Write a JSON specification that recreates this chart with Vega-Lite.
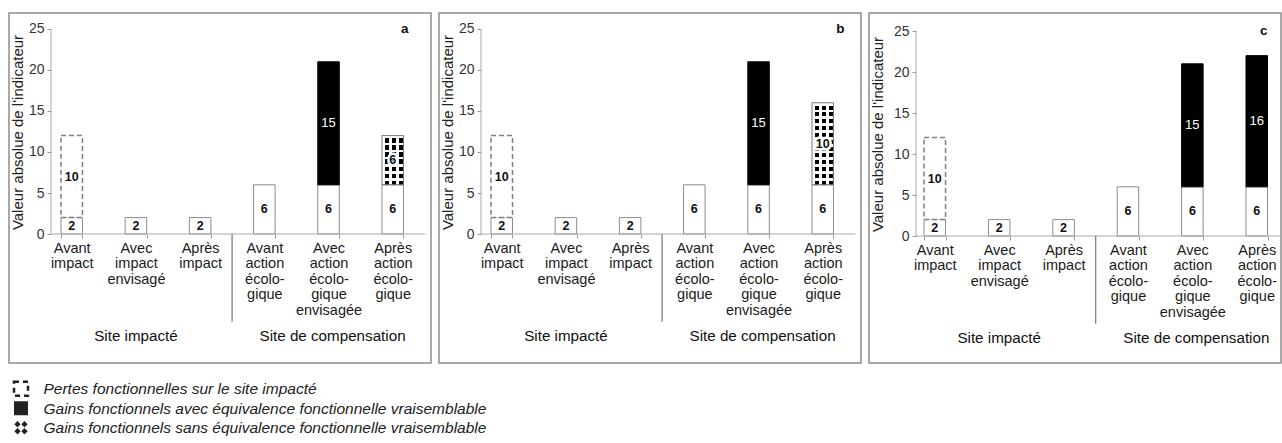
{
  "$schema": "https://vega.github.io/schema/vega-lite/v6.json",
  "padding": {"left": 8, "top": 12, "right": 0, "bottom": 0},
  "background": "white",
  "config": {
    "font": "Liberation Sans",
    "text": {"font": "Liberation Sans"},
    "axis": {"labelFont": "Liberation Sans", "titleFont": "Liberation Sans"},
    "view": {"stroke": "#8c8c8c", "strokeWidth": 1.5},
    "concat": {"spacing": 6}
  },
  "spacing": 12,
  "vconcat": [
    {
      "spacing": 6,
      "hconcat": [
        {
          "width": 422,
          "height": 350,
          "data": {"values": [
            {"cat": "Avant|impact", "seg": "base", "value": 2, "ord": 1},
            {"cat": "Avant|impact", "seg": "pertes", "value": 10, "ord": 2},
            {"cat": "Avec|impact|envisagé", "seg": "base", "value": 2, "ord": 1},
            {"cat": "Après|impact", "seg": "base", "value": 2, "ord": 1},
            {"cat": "Avant|action|écolo-|gique", "seg": "base", "value": 6, "ord": 1},
            {"cat": "Avec|action|écolo-|gique|envisagée", "seg": "base", "value": 6, "ord": 1},
            {"cat": "Avec|action|écolo-|gique|envisagée", "seg": "equiv", "value": 15, "ord": 2},
            {"cat": "Après|action|écolo-|gique", "seg": "base", "value": 6, "ord": 1},
            {"cat": "Après|action|écolo-|gique", "seg": "sans", "value": 6, "ord": 2}
          ]},
          "transform": [
            {"stack": "value", "groupby": ["cat"], "sort": [{"field": "ord"}], "as": ["y0", "y1"]},
            {"calculate": "(datum.y0+datum.y1)/2", "as": "mid"}
          ],
          "encoding": {
            "x": {"field": "cat", "type": "nominal", "title": null,
              "scale": {"domain": ["Avant|impact", "Avec|impact|envisagé", "Après|impact", "Avant|action|écolo-|gique", "Avec|action|écolo-|gique|envisagée", "Après|action|écolo-|gique"], "paddingInner": 0.665, "paddingOuter": 0.619, "align": 0.654, "round": false},
              "axis": {"orient": "bottom", "offset": -129, "domain": false, "ticks": true, "tickBand": "extent", "tickSize": 4, "tickColor": "#999", "labelExpr": "split(datum.label, '|')", "labelFontSize": 14.5, "labelColor": "#1a1a1a", "labelLineHeight": 15.5, "labelPadding": 3, "labelAngle": 0, "labelLimit": 0}}
          },
          "layer": [
            {"transform": [{"filter": "datum.seg=='base'"}], "mark": {"type": "bar", "fill": "white", "stroke": "#8c8c8c", "strokeWidth": 1},
              "encoding": {"y": {"field": "y1", "type": "quantitative", "scale": {"domain": [-15.73, 26.95], "nice": false, "zero": false},
                "axis": {"title": "Valeur absolue de l'indicateur", "values": [0, 5, 10, 15, 20, 25], "offset": -42, "domain": false, "grid": false, "tickSize": 4, "tickColor": "#999", "labelFontSize": 14, "labelColor": "#333", "labelPadding": 3, "titleFontSize": 15, "titleFontWeight": "normal", "titleColor": "#222", "titleX": -34, "titleY": 119, "titleAngle": -90, "titleAlign": "center", "titleBaseline": "middle"}},
                "y2": {"field": "y0"}}},
            {"transform": [{"filter": "datum.seg=='pertes'"}], "mark": {"type": "bar", "fill": "white", "stroke": "#808080", "strokeWidth": 1.5, "strokeDash": [5, 3]},
              "encoding": {"y": {"field": "y1", "type": "quantitative", "scale": {"domain": [-15.73, 26.95], "nice": false, "zero": false}}, "y2": {"field": "y0"}}},
            {"transform": [{"filter": "datum.seg=='equiv'"}], "mark": {"type": "bar", "fill": "black", "stroke": "black", "strokeWidth": 1},
              "encoding": {"y": {"field": "y1", "type": "quantitative", "scale": {"domain": [-15.73, 26.95], "nice": false, "zero": false}}, "y2": {"field": "y0"}}},
            {"transform": [{"filter": "datum.seg=='sans'"}], "mark": {"type": "bar", "strokeWidth": 0, "fill": {"gradient": "linear", "x1": 0, "y1": 0, "x2": 0, "y2": 1, "stops": [
              {"offset": 0, "color": "white"}, {"offset": 0.0571, "color": "white"}, {"offset": 0.0571, "color": "black"}, {"offset": 0.1429, "color": "black"},
              {"offset": 0.1429, "color": "white"}, {"offset": 0.2, "color": "white"}, {"offset": 0.2, "color": "black"}, {"offset": 0.2857, "color": "black"},
              {"offset": 0.2857, "color": "white"}, {"offset": 0.3429, "color": "white"}, {"offset": 0.3429, "color": "black"}, {"offset": 0.4286, "color": "black"},
              {"offset": 0.4286, "color": "white"}, {"offset": 0.4857, "color": "white"}, {"offset": 0.4857, "color": "black"}, {"offset": 0.5714, "color": "black"},
              {"offset": 0.5714, "color": "white"}, {"offset": 0.6286, "color": "white"}, {"offset": 0.6286, "color": "black"}, {"offset": 0.7143, "color": "black"},
              {"offset": 0.7143, "color": "white"}, {"offset": 0.7714, "color": "white"}, {"offset": 0.7714, "color": "black"}, {"offset": 0.8571, "color": "black"},
              {"offset": 0.8571, "color": "white"}, {"offset": 0.9143, "color": "white"}, {"offset": 0.9143, "color": "black"}, {"offset": 1, "color": "black"}]}},
              "encoding": {"y": {"field": "y1", "type": "quantitative", "scale": {"domain": [-15.73, 26.95], "nice": false, "zero": false}}, "y2": {"field": "y0"}}},
            {"transform": [{"filter": "datum.seg=='sans'"}], "mark": {"type": "bar", "stroke": "#777", "strokeWidth": 1, "fill": {"gradient": "linear", "x1": 0, "y1": 0, "x2": 1, "y2": 0, "stops": [
              {"offset": 0, "color": "white"}, {"offset": 0.1333, "color": "white"}, {"offset": 0.1333, "color": "rgba(255,255,255,0)"}, {"offset": 0.3333, "color": "rgba(255,255,255,0)"},
              {"offset": 0.3333, "color": "white"}, {"offset": 0.4667, "color": "white"}, {"offset": 0.4667, "color": "rgba(255,255,255,0)"}, {"offset": 0.6667, "color": "rgba(255,255,255,0)"},
              {"offset": 0.6667, "color": "white"}, {"offset": 0.8, "color": "white"}, {"offset": 0.8, "color": "rgba(255,255,255,0)"}, {"offset": 1, "color": "rgba(255,255,255,0)"}]}},
              "encoding": {"y": {"field": "y1", "type": "quantitative", "scale": {"domain": [-15.73, 26.95], "nice": false, "zero": false}}, "y2": {"field": "y0"}}},
            {"data": {"values": [{}]}, "mark": {"type": "rule", "color": "#aaa", "strokeWidth": 1, "xOffset": -10},
              "encoding": {"x": {"datum": "Avant|impact", "bandPosition": 0}, "y": {"datum": 0, "scale": {"domain": [-15.73, 26.95], "nice": false, "zero": false}}, "y2": {"datum": 25}}},
            {"data": {"values": [{}]}, "mark": {"type": "rule", "color": "#aaa", "strokeWidth": 1, "xOffset": -10, "x2Offset": 22},
              "encoding": {"x": {"datum": "Avant|impact", "bandPosition": 0}, "x2": {"datum": "Après|action|écolo-|gique", "bandPosition": 1}, "y": {"datum": 0, "scale": {"domain": [-15.73, 26.95], "nice": false, "zero": false}}}},
            {"data": {"values": [{}]}, "mark": {"type": "rule", "color": "#777", "strokeWidth": 1.2, "xOffset": -21.5},
              "encoding": {"x": {"datum": "Avant|action|écolo-|gique", "bandPosition": 0}, "y": {"datum": 0, "scale": {"domain": [-15.73, 26.95], "nice": false, "zero": false}}, "y2": {"datum": -10.7}}},
            {"transform": [{"filter": "datum.seg=='base' || datum.seg=='pertes'"}], "mark": {"type": "text", "font": "Liberation Sans", "fontWeight": "bold", "fontSize": 12.5, "color": "#111", "baseline": "middle"},
              "encoding": {"y": {"field": "mid", "type": "quantitative", "scale": {"domain": [-15.73, 26.95], "nice": false, "zero": false}}, "text": {"field": "value", "type": "quantitative"}}},
            {"transform": [{"filter": "datum.seg=='equiv'"}], "mark": {"type": "text", "font": "Liberation Sans", "fontSize": 13, "color": "white", "baseline": "middle"},
              "encoding": {"y": {"field": "mid", "type": "quantitative", "scale": {"domain": [-15.73, 26.95], "nice": false, "zero": false}}, "text": {"field": "value", "type": "quantitative"}}},
            {"transform": [{"filter": "datum.seg=='sans'"}], "mark": {"type": "text", "font": "Liberation Sans", "fontWeight": "bold", "fontSize": 12.5, "fill": "white", "stroke": "white", "strokeWidth": 5, "baseline": "middle"},
              "encoding": {"y": {"field": "mid", "type": "quantitative", "scale": {"domain": [-15.73, 26.95], "nice": false, "zero": false}}, "text": {"field": "value", "type": "quantitative"}}},
            {"transform": [{"filter": "datum.seg=='sans'"}], "mark": {"type": "text", "font": "Liberation Sans", "fontWeight": "bold", "fontSize": 12.5, "color": "#111", "baseline": "middle"},
              "encoding": {"y": {"field": "mid", "type": "quantitative", "scale": {"domain": [-15.73, 26.95], "nice": false, "zero": false}}, "text": {"field": "value", "type": "quantitative"}}},
            {"data": {"values": [{}]}, "mark": {"type": "text", "font": "Liberation Sans", "fontWeight": "normal", "fontSize": 15.2, "color": "#111", "baseline": "middle"},
              "encoding": {"x": {"datum": "Avec|impact|envisagé"}, "y": {"datum": -12.4, "scale": {"domain": [-15.73, 26.95], "nice": false, "zero": false}}, "text": {"value": "Site impacté"}}},
            {"data": {"values": [{}]}, "mark": {"type": "text", "font": "Liberation Sans", "fontWeight": "normal", "fontSize": 15.2, "color": "#111", "baseline": "middle", "dx": 4},
              "encoding": {"x": {"datum": "Avec|action|écolo-|gique|envisagée"}, "y": {"datum": -12.4, "scale": {"domain": [-15.73, 26.95], "nice": false, "zero": false}}, "text": {"value": "Site de compensation"}}},
            {"data": {"values": [{}]}, "mark": {"type": "text", "font": "Liberation Sans", "fontSize": 13.5, "fontWeight": "bold", "color": "#111", "align": "right", "baseline": "middle", "dx": 5},
              "encoding": {"x": {"datum": "Après|action|écolo-|gique", "bandPosition": 1}, "y": {"datum": 25, "scale": {"domain": [-15.73, 26.95], "nice": false, "zero": false}}, "text": {"value": "a"}}}
          ]
        },
        {
          "width": 422,
          "height": 350,
          "data": {"values": [
            {"cat": "Avant|impact", "seg": "base", "value": 2, "ord": 1},
            {"cat": "Avant|impact", "seg": "pertes", "value": 10, "ord": 2},
            {"cat": "Avec|impact|envisagé", "seg": "base", "value": 2, "ord": 1},
            {"cat": "Après|impact", "seg": "base", "value": 2, "ord": 1},
            {"cat": "Avant|action|écolo-|gique", "seg": "base", "value": 6, "ord": 1},
            {"cat": "Avec|action|écolo-|gique|envisagée", "seg": "base", "value": 6, "ord": 1},
            {"cat": "Avec|action|écolo-|gique|envisagée", "seg": "equiv", "value": 15, "ord": 2},
            {"cat": "Après|action|écolo-|gique", "seg": "base", "value": 6, "ord": 1},
            {"cat": "Après|action|écolo-|gique", "seg": "sans", "value": 10, "ord": 2}
          ]},
          "transform": [
            {"stack": "value", "groupby": ["cat"], "sort": [{"field": "ord"}], "as": ["y0", "y1"]},
            {"calculate": "(datum.y0+datum.y1)/2", "as": "mid"}
          ],
          "encoding": {
            "x": {"field": "cat", "type": "nominal", "title": null,
              "scale": {"domain": ["Avant|impact", "Avec|impact|envisagé", "Après|impact", "Avant|action|écolo-|gique", "Avec|action|écolo-|gique|envisagée", "Après|action|écolo-|gique"], "paddingInner": 0.665, "paddingOuter": 0.619, "align": 0.654, "round": false},
              "axis": {"orient": "bottom", "offset": -129, "domain": false, "ticks": true, "tickBand": "extent", "tickSize": 4, "tickColor": "#999", "labelExpr": "split(datum.label, '|')", "labelFontSize": 14.5, "labelColor": "#1a1a1a", "labelLineHeight": 15.5, "labelPadding": 3, "labelAngle": 0, "labelLimit": 0}}
          },
          "layer": [
            {"transform": [{"filter": "datum.seg=='base'"}], "mark": {"type": "bar", "fill": "white", "stroke": "#8c8c8c", "strokeWidth": 1},
              "encoding": {"y": {"field": "y1", "type": "quantitative", "scale": {"domain": [-15.73, 26.95], "nice": false, "zero": false},
                "axis": {"title": "Valeur absolue de l'indicateur", "values": [0, 5, 10, 15, 20, 25], "offset": -42, "domain": false, "grid": false, "tickSize": 4, "tickColor": "#999", "labelFontSize": 14, "labelColor": "#333", "labelPadding": 3, "titleFontSize": 15, "titleFontWeight": "normal", "titleColor": "#222", "titleX": -34, "titleY": 119, "titleAngle": -90, "titleAlign": "center", "titleBaseline": "middle"}},
                "y2": {"field": "y0"}}},
            {"transform": [{"filter": "datum.seg=='pertes'"}], "mark": {"type": "bar", "fill": "white", "stroke": "#808080", "strokeWidth": 1.5, "strokeDash": [5, 3]},
              "encoding": {"y": {"field": "y1", "type": "quantitative", "scale": {"domain": [-15.73, 26.95], "nice": false, "zero": false}}, "y2": {"field": "y0"}}},
            {"transform": [{"filter": "datum.seg=='equiv'"}], "mark": {"type": "bar", "fill": "black", "stroke": "black", "strokeWidth": 1},
              "encoding": {"y": {"field": "y1", "type": "quantitative", "scale": {"domain": [-15.73, 26.95], "nice": false, "zero": false}}, "y2": {"field": "y0"}}},
            {"transform": [{"filter": "datum.seg=='sans'"}], "mark": {"type": "bar", "strokeWidth": 0, "fill": {"gradient": "linear", "x1": 0, "y1": 0, "x2": 0, "y2": 1, "stops": [
              {"offset": 0, "color": "white"}, {"offset": 0.0333, "color": "white"}, {"offset": 0.0333, "color": "black"}, {"offset": 0.0833, "color": "black"},
              {"offset": 0.0833, "color": "white"}, {"offset": 0.1167, "color": "white"}, {"offset": 0.1167, "color": "black"}, {"offset": 0.1667, "color": "black"},
              {"offset": 0.1667, "color": "white"}, {"offset": 0.2, "color": "white"}, {"offset": 0.2, "color": "black"}, {"offset": 0.25, "color": "black"},
              {"offset": 0.25, "color": "white"}, {"offset": 0.2833, "color": "white"}, {"offset": 0.2833, "color": "black"}, {"offset": 0.3333, "color": "black"},
              {"offset": 0.3333, "color": "white"}, {"offset": 0.3667, "color": "white"}, {"offset": 0.3667, "color": "black"}, {"offset": 0.4167, "color": "black"},
              {"offset": 0.4167, "color": "white"}, {"offset": 0.45, "color": "white"}, {"offset": 0.45, "color": "black"}, {"offset": 0.5, "color": "black"},
              {"offset": 0.5, "color": "white"}, {"offset": 0.5333, "color": "white"}, {"offset": 0.5333, "color": "black"}, {"offset": 0.5833, "color": "black"},
              {"offset": 0.5833, "color": "white"}, {"offset": 0.6167, "color": "white"}, {"offset": 0.6167, "color": "black"}, {"offset": 0.6667, "color": "black"},
              {"offset": 0.6667, "color": "white"}, {"offset": 0.7, "color": "white"}, {"offset": 0.7, "color": "black"}, {"offset": 0.75, "color": "black"},
              {"offset": 0.75, "color": "white"}, {"offset": 0.7833, "color": "white"}, {"offset": 0.7833, "color": "black"}, {"offset": 0.8333, "color": "black"},
              {"offset": 0.8333, "color": "white"}, {"offset": 0.8667, "color": "white"}, {"offset": 0.8667, "color": "black"}, {"offset": 0.9167, "color": "black"},
              {"offset": 0.9167, "color": "white"}, {"offset": 0.95, "color": "white"}, {"offset": 0.95, "color": "black"}, {"offset": 1, "color": "black"}]}},
              "encoding": {"y": {"field": "y1", "type": "quantitative", "scale": {"domain": [-15.73, 26.95], "nice": false, "zero": false}}, "y2": {"field": "y0"}}},
            {"transform": [{"filter": "datum.seg=='sans'"}], "mark": {"type": "bar", "stroke": "#777", "strokeWidth": 1, "fill": {"gradient": "linear", "x1": 0, "y1": 0, "x2": 1, "y2": 0, "stops": [
              {"offset": 0, "color": "white"}, {"offset": 0.1333, "color": "white"}, {"offset": 0.1333, "color": "rgba(255,255,255,0)"}, {"offset": 0.3333, "color": "rgba(255,255,255,0)"},
              {"offset": 0.3333, "color": "white"}, {"offset": 0.4667, "color": "white"}, {"offset": 0.4667, "color": "rgba(255,255,255,0)"}, {"offset": 0.6667, "color": "rgba(255,255,255,0)"},
              {"offset": 0.6667, "color": "white"}, {"offset": 0.8, "color": "white"}, {"offset": 0.8, "color": "rgba(255,255,255,0)"}, {"offset": 1, "color": "rgba(255,255,255,0)"}]}},
              "encoding": {"y": {"field": "y1", "type": "quantitative", "scale": {"domain": [-15.73, 26.95], "nice": false, "zero": false}}, "y2": {"field": "y0"}}},
            {"data": {"values": [{}]}, "mark": {"type": "rule", "color": "#aaa", "strokeWidth": 1, "xOffset": -10},
              "encoding": {"x": {"datum": "Avant|impact", "bandPosition": 0}, "y": {"datum": 0, "scale": {"domain": [-15.73, 26.95], "nice": false, "zero": false}}, "y2": {"datum": 25}}},
            {"data": {"values": [{}]}, "mark": {"type": "rule", "color": "#aaa", "strokeWidth": 1, "xOffset": -10, "x2Offset": 22},
              "encoding": {"x": {"datum": "Avant|impact", "bandPosition": 0}, "x2": {"datum": "Après|action|écolo-|gique", "bandPosition": 1}, "y": {"datum": 0, "scale": {"domain": [-15.73, 26.95], "nice": false, "zero": false}}}},
            {"data": {"values": [{}]}, "mark": {"type": "rule", "color": "#777", "strokeWidth": 1.2, "xOffset": -21.5},
              "encoding": {"x": {"datum": "Avant|action|écolo-|gique", "bandPosition": 0}, "y": {"datum": 0, "scale": {"domain": [-15.73, 26.95], "nice": false, "zero": false}}, "y2": {"datum": -10.7}}},
            {"transform": [{"filter": "datum.seg=='base' || datum.seg=='pertes'"}], "mark": {"type": "text", "font": "Liberation Sans", "fontWeight": "bold", "fontSize": 12.5, "color": "#111", "baseline": "middle"},
              "encoding": {"y": {"field": "mid", "type": "quantitative", "scale": {"domain": [-15.73, 26.95], "nice": false, "zero": false}}, "text": {"field": "value", "type": "quantitative"}}},
            {"transform": [{"filter": "datum.seg=='equiv'"}], "mark": {"type": "text", "font": "Liberation Sans", "fontSize": 13, "color": "white", "baseline": "middle"},
              "encoding": {"y": {"field": "mid", "type": "quantitative", "scale": {"domain": [-15.73, 26.95], "nice": false, "zero": false}}, "text": {"field": "value", "type": "quantitative"}}},
            {"transform": [{"filter": "datum.seg=='sans'"}], "mark": {"type": "text", "font": "Liberation Sans", "fontWeight": "bold", "fontSize": 12.5, "fill": "white", "stroke": "white", "strokeWidth": 5, "baseline": "middle"},
              "encoding": {"y": {"field": "mid", "type": "quantitative", "scale": {"domain": [-15.73, 26.95], "nice": false, "zero": false}}, "text": {"field": "value", "type": "quantitative"}}},
            {"transform": [{"filter": "datum.seg=='sans'"}], "mark": {"type": "text", "font": "Liberation Sans", "fontWeight": "bold", "fontSize": 12.5, "color": "#111", "baseline": "middle"},
              "encoding": {"y": {"field": "mid", "type": "quantitative", "scale": {"domain": [-15.73, 26.95], "nice": false, "zero": false}}, "text": {"field": "value", "type": "quantitative"}}},
            {"data": {"values": [{}]}, "mark": {"type": "text", "font": "Liberation Sans", "fontWeight": "normal", "fontSize": 15.2, "color": "#111", "baseline": "middle"},
              "encoding": {"x": {"datum": "Avec|impact|envisagé"}, "y": {"datum": -12.4, "scale": {"domain": [-15.73, 26.95], "nice": false, "zero": false}}, "text": {"value": "Site impacté"}}},
            {"data": {"values": [{}]}, "mark": {"type": "text", "font": "Liberation Sans", "fontWeight": "normal", "fontSize": 15.2, "color": "#111", "baseline": "middle", "dx": 4},
              "encoding": {"x": {"datum": "Avec|action|écolo-|gique|envisagée"}, "y": {"datum": -12.4, "scale": {"domain": [-15.73, 26.95], "nice": false, "zero": false}}, "text": {"value": "Site de compensation"}}},
            {"data": {"values": [{}]}, "mark": {"type": "text", "font": "Liberation Sans", "fontSize": 13.5, "fontWeight": "bold", "color": "#111", "align": "right", "baseline": "middle", "dx": 11},
              "encoding": {"x": {"datum": "Après|action|écolo-|gique", "bandPosition": 1}, "y": {"datum": 25, "scale": {"domain": [-15.73, 26.95], "nice": false, "zero": false}}, "text": {"value": "b"}}}
          ]
        },
        {
          "width": 412,
          "height": 350,
          "data": {"values": [
            {"cat": "Avant|impact", "seg": "base", "value": 2, "ord": 1},
            {"cat": "Avant|impact", "seg": "pertes", "value": 10, "ord": 2},
            {"cat": "Avec|impact|envisagé", "seg": "base", "value": 2, "ord": 1},
            {"cat": "Après|impact", "seg": "base", "value": 2, "ord": 1},
            {"cat": "Avant|action|écolo-|gique", "seg": "base", "value": 6, "ord": 1},
            {"cat": "Avec|action|écolo-|gique|envisagée", "seg": "base", "value": 6, "ord": 1},
            {"cat": "Avec|action|écolo-|gique|envisagée", "seg": "equiv", "value": 15, "ord": 2},
            {"cat": "Après|action|écolo-|gique", "seg": "base", "value": 6, "ord": 1},
            {"cat": "Après|action|écolo-|gique", "seg": "equiv", "value": 16, "ord": 2}
          ]},
          "transform": [
            {"stack": "value", "groupby": ["cat"], "sort": [{"field": "ord"}], "as": ["y0", "y1"]},
            {"calculate": "(datum.y0+datum.y1)/2", "as": "mid"}
          ],
          "encoding": {
            "x": {"field": "cat", "type": "nominal", "title": null,
              "scale": {"domain": ["Avant|impact", "Avec|impact|envisagé", "Après|impact", "Avant|action|écolo-|gique", "Avec|action|écolo-|gique|envisagée", "Après|action|écolo-|gique"], "paddingInner": 0.666, "paddingOuter": 0.532, "align": 0.803, "round": false},
              "axis": {"orient": "bottom", "offset": -127, "domain": false, "ticks": true, "tickBand": "extent", "tickSize": 4, "tickColor": "#999", "labelExpr": "split(datum.label, '|')", "labelFontSize": 14.5, "labelColor": "#1a1a1a", "labelLineHeight": 15.5, "labelPadding": 3, "labelAngle": 0, "labelLimit": 0}}
          },
          "layer": [
            {"transform": [{"filter": "datum.seg=='base'"}], "mark": {"type": "bar", "fill": "white", "stroke": "#8c8c8c", "strokeWidth": 1},
              "encoding": {"y": {"field": "y1", "type": "quantitative", "scale": {"domain": [-15.49, 27.2], "nice": false, "zero": false},
                "axis": {"title": "Valeur absolue de l'indicateur", "values": [0, 5, 10, 15, 20, 25], "offset": -47, "domain": false, "grid": false, "tickSize": 4, "tickColor": "#999", "labelFontSize": 14, "labelColor": "#333", "labelPadding": 3, "titleFontSize": 15, "titleFontWeight": "normal", "titleColor": "#222", "titleX": -39, "titleY": 121, "titleAngle": -90, "titleAlign": "center", "titleBaseline": "middle"}},
                "y2": {"field": "y0"}}},
            {"transform": [{"filter": "datum.seg=='pertes'"}], "mark": {"type": "bar", "fill": "white", "stroke": "#808080", "strokeWidth": 1.5, "strokeDash": [5, 3]},
              "encoding": {"y": {"field": "y1", "type": "quantitative", "scale": {"domain": [-15.49, 27.2], "nice": false, "zero": false}}, "y2": {"field": "y0"}}},
            {"transform": [{"filter": "datum.seg=='equiv'"}], "mark": {"type": "bar", "fill": "black", "stroke": "black", "strokeWidth": 1},
              "encoding": {"y": {"field": "y1", "type": "quantitative", "scale": {"domain": [-15.49, 27.2], "nice": false, "zero": false}}, "y2": {"field": "y0"}}},
            {"data": {"values": [{}]}, "mark": {"type": "rule", "color": "#aaa", "strokeWidth": 1, "xOffset": -8},
              "encoding": {"x": {"datum": "Avant|impact", "bandPosition": 0}, "y": {"datum": 0, "scale": {"domain": [-15.49, 27.2], "nice": false, "zero": false}}, "y2": {"datum": 25}}},
            {"data": {"values": [{}]}, "mark": {"type": "rule", "color": "#aaa", "strokeWidth": 1, "xOffset": -8, "x2Offset": 22},
              "encoding": {"x": {"datum": "Avant|impact", "bandPosition": 0}, "x2": {"datum": "Après|action|écolo-|gique", "bandPosition": 1}, "y": {"datum": 0, "scale": {"domain": [-15.49, 27.2], "nice": false, "zero": false}}}},
            {"data": {"values": [{}]}, "mark": {"type": "rule", "color": "#777", "strokeWidth": 1.2, "xOffset": -21.5},
              "encoding": {"x": {"datum": "Avant|action|écolo-|gique", "bandPosition": 0}, "y": {"datum": 0, "scale": {"domain": [-15.49, 27.2], "nice": false, "zero": false}}, "y2": {"datum": -10.7}}},
            {"transform": [{"filter": "datum.seg=='base' || datum.seg=='pertes'"}], "mark": {"type": "text", "font": "Liberation Sans", "fontWeight": "bold", "fontSize": 12.5, "color": "#111", "baseline": "middle"},
              "encoding": {"y": {"field": "mid", "type": "quantitative", "scale": {"domain": [-15.49, 27.2], "nice": false, "zero": false}}, "text": {"field": "value", "type": "quantitative"}}},
            {"transform": [{"filter": "datum.seg=='equiv'"}], "mark": {"type": "text", "font": "Liberation Sans", "fontSize": 13, "color": "white", "baseline": "middle"},
              "encoding": {"y": {"field": "mid", "type": "quantitative", "scale": {"domain": [-15.49, 27.2], "nice": false, "zero": false}}, "text": {"field": "value", "type": "quantitative"}}},
            {"data": {"values": [{}]}, "mark": {"type": "text", "font": "Liberation Sans", "fontWeight": "normal", "fontSize": 15.2, "color": "#111", "baseline": "middle"},
              "encoding": {"x": {"datum": "Avec|impact|envisagé"}, "y": {"datum": -12.4, "scale": {"domain": [-15.49, 27.2], "nice": false, "zero": false}}, "text": {"value": "Site impacté"}}},
            {"data": {"values": [{}]}, "mark": {"type": "text", "font": "Liberation Sans", "fontWeight": "normal", "fontSize": 15.2, "color": "#111", "baseline": "middle", "dx": 4},
              "encoding": {"x": {"datum": "Avec|action|écolo-|gique|envisagée"}, "y": {"datum": -12.4, "scale": {"domain": [-15.49, 27.2], "nice": false, "zero": false}}, "text": {"value": "Site de compensation"}}},
            {"data": {"values": [{}]}, "mark": {"type": "text", "font": "Liberation Sans", "fontSize": 13.5, "fontWeight": "bold", "color": "#111", "align": "right", "baseline": "middle", "dx": 0},
              "encoding": {"x": {"datum": "Après|action|écolo-|gique", "bandPosition": 1}, "y": {"datum": 25, "scale": {"domain": [-15.49, 27.2], "nice": false, "zero": false}}, "text": {"value": "c"}}}
          ]
        }
      ]
    },
    {
      "width": 24,
      "height": 58.5,
      "view": {"stroke": null},
      "data": {"values": [
        {"item": "Pertes fonctionnelles sur le site impacté", "k": "pertes"},
        {"item": "Gains fonctionnels avec équivalence fonctionnelle vraisemblable", "k": "equiv"},
        {"item": "Gains fonctionnels sans équivalence fonctionnelle vraisemblable", "k": "sans"}
      ]},
      "encoding": {
        "y": {"field": "item", "type": "nominal",
          "scale": {"type": "point", "padding": 0.5, "domain": ["Pertes fonctionnelles sur le site impacté", "Gains fonctionnels avec équivalence fonctionnelle vraisemblable", "Gains fonctionnels sans équivalence fonctionnelle vraisemblable"]},
          "axis": {"orient": "right", "title": null, "domain": false, "ticks": false, "grid": false, "labelFontStyle": "italic", "labelFontSize": 15.5, "labelColor": "#222", "labelPadding": 10, "labelLimit": 0}}
      },
      "layer": [
        {"transform": [{"filter": "datum.k=='pertes'"}], "mark": {"type": "point", "shape": "square", "filled": false, "stroke": "#222", "strokeWidth": 2.5, "strokeDash": [5, 4], "size": 196, "opacity": 1}},
        {"transform": [{"filter": "datum.k=='equiv'"}], "mark": {"type": "point", "shape": "square", "filled": true, "fill": "#222", "strokeWidth": 0, "size": 196, "opacity": 1}},
        {"transform": [{"filter": "datum.k=='sans'"}], "mark": {"type": "point", "shape": "M-0.5,-0.95L-0.05,-0.5L-0.5,-0.05L-0.95,-0.5Z M0.5,-0.95L0.95,-0.5L0.5,-0.05L0.05,-0.5Z M-0.5,0.05L-0.05,0.5L-0.5,0.95L-0.95,0.5Z M0.5,0.05L0.95,0.5L0.5,0.95L0.05,0.5Z", "filled": true, "fill": "#222", "strokeWidth": 0, "size": 196, "opacity": 1}}
      ]
    }
  ]
}
